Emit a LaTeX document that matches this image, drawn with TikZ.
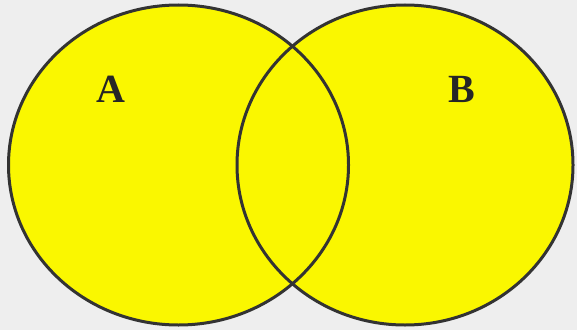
\documentclass[tikz,border=0pt]{standalone}
\usepackage{fontspec}
\setmainfont{Liberation Serif}
\definecolor{bg}{HTML}{EEEEEE}
\definecolor{vyellow}{HTML}{FAF700}
\definecolor{edge}{HTML}{333333}
\begin{document}
\begin{tikzpicture}[x=1pt,y=1pt,
  setfill/.style={fill=vyellow},
  setline/.style={draw=edge,line width=3pt},
  setlabel/.style={font=\fontsize{40}{40}\selectfont\bfseries,text=black!85}]
\fill[bg] (0,0) rectangle (577,330);
\useasboundingbox (0,0) rectangle (577,330);
\coordinate (ca) at (178.5,165);
\coordinate (cb) at (405,165);
\fill[setfill] (ca) ellipse [x radius=170, y radius=160];
\fill[setfill] (cb) ellipse [x radius=168, y radius=160];
\draw[setline] (ca) ellipse [x radius=170, y radius=160];
\draw[setline] (cb) ellipse [x radius=168, y radius=160];
\node[setlabel] (A) at (111,241) {A};
\node[setlabel] (B) at (462,241) {B};
\end{tikzpicture}
\end{document}
